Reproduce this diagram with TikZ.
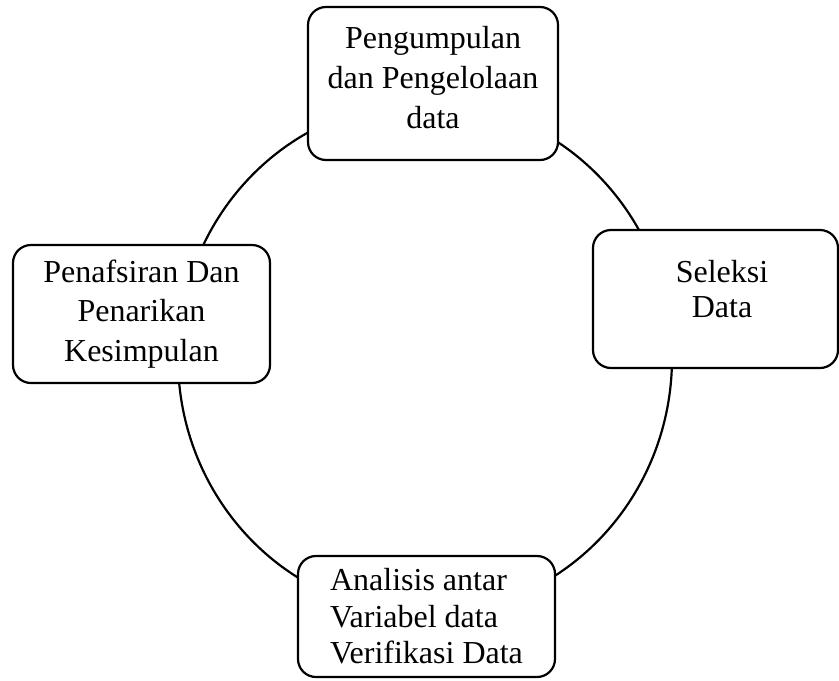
\documentclass[tikz,border=0pt]{standalone}
\usepackage{fontspec}
\setmainfont{Liberation Serif}
\usetikzlibrary{positioning, backgrounds}

\begin{document}
\begin{tikzpicture}[
    x=0.5pt, y=-0.5pt,
    font=\fontsize{16}{20}\selectfont,
    boxstyle/.style={rectangle, draw=black, fill=white, rounded corners=9pt, align=center, inner sep=0pt, line width=1.1pt},
    cyclestyle/.style={draw=black, line width=1.1pt}
]
    \useasboundingbox (0,0) rectangle (839,680);

    % Stages around the cycle
    \node (pengumpulan) [boxstyle, minimum width=125pt, minimum height=76.5pt, text depth=6pt] at (433,83.5) {Pengumpulan\\dan Pengelolaan\\data};
    \node (seleksi) [boxstyle, minimum width=122.5pt, minimum height=69pt] at (715.5,299) {};
    \node (seleksi_text) [align=center, font=\fontsize{16}{17.5}\selectfont, inner sep=0pt] at (722,289) {Seleksi\\Data};
    \node (analisis) [boxstyle, align=left, font=\fontsize{16}{18.25}\selectfont, minimum width=128.5pt, minimum height=60.5pt] at (426.5,616.5) {Analisis antar\\Variabel data\\Verifikasi Data};
    \node (penafsiran) [boxstyle, font=\fontsize{16}{19.75}\selectfont, minimum width=128.5pt, minimum height=69pt] at (141.5,314) {Penafsiran Dan\\Penarikan\\Kesimpulan};

    % Cycle behind the boxes
    \begin{scope}[on background layer]
        \draw [cyclestyle] (425,358) ellipse [x radius=247, y radius=256];
    \end{scope}

\end{tikzpicture}
\end{document}
